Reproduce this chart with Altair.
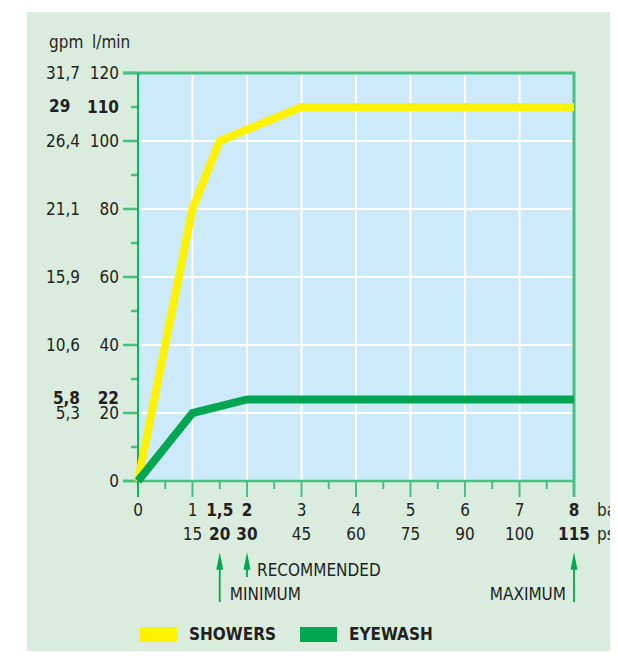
import altair as alt
import pandas as pd

# ---------------- data ----------------
shower_bar = [0, 1, 1.5, 3, 8]
shower_lmin = [0, 80, 100, 110, 110]
eye_bar = [0, 1, 2, 8]
eye_lmin = [0, 20, 24, 24]

bar_ticks = [0, 1, 1.5, 2, 3, 4, 5, 6, 7, 8]
bar_labels = ["0", "1", "1,5", "2", "3", "4", "5", "6", "7", "8"]
bar_bold = [False, False, True, True, False, False, False, False, False, True]

psi_ticks = [1, 1.5, 2, 3, 4, 5, 6, 7, 8]
psi_labels = ["15", "20", "30", "45", "60", "75", "90", "100", "115"]
psi_bold = [False, True, True, False, False, False, False, False, True]

lmin_ticks = [120, 110, 100, 80, 60, 40, 24.5, 20, 0]
lmin_labels = ["120", "110", "100", "80", "60", "40", "22", "20", "0"]
lmin_bold = [False, True, False, False, False, False, True, False, False]

gpm_ticks = [120, 100, 80, 60, 40, 24.5, 20]
gpm_labels = ["31,7", "26,4", "21,1", "15,9", "10,6", "5,8", "5,3"]
gpm_bold = [False, False, False, False, False, True, False]
gpm_top_tick = [110]
gpm_top_label = ["29"]

major_y = [0, 20, 40, 60, 80, 100, 120]
minor_y = [10, 30, 50, 70, 90, 110]
grid_y = [20, 40, 60, 80, 100]
grid_x = [1, 2, 3, 4, 5, 6, 7]
major_x = [0, 1, 2, 3, 4, 5, 6, 7, 8]
minor_x = [0.5, 1.5, 2.5, 3.5, 4.5, 5.5, 6.5, 7.5]

long_arrows = [1.5, 8]
short_arrows = [2]

series_names = ["SHOWERS", "EYEWASH"]

# ---------------- styles ----------------
W, H = 436, 408
FONT = "Liberation Sans Narrow, Arial Narrow, DejaVu Sans Condensed, sans-serif"
TXT = "#231f20"
PANEL = "#d9ecdd"
PLOT_BG = "#cdeafa"
TICK = "#45c184"
AXIS = "#12af5d"
YELLOW = "#fff200"
GREEN = "#00a651"
FS = 17

xs = alt.Scale(domain=[0, 8], nice=False, zero=False)
ys = alt.Scale(domain=[0, 120], nice=False, zero=False)


def df(**cols):
    return pd.DataFrame(cols)


def X(f="v"):
    return alt.X(f"{f}:Q", scale=xs, axis=None)


def Y(f="v"):
    return alt.Y(f"{f}:Q", scale=ys, axis=None)


layers = []

# background panels
layers.append(alt.Chart(df(a=[0])).mark_rect(color=PANEL).encode(
    x=alt.value(-111), x2=alt.value(490), y=alt.value(-61), y2=alt.value(600)))
layers.append(alt.Chart(df(a=[0])).mark_rect(color=PLOT_BG).encode(
    x=alt.value(0), x2=alt.value(W), y=alt.value(0), y2=alt.value(H)))

# grid
layers.append(alt.Chart(df(v=grid_y)).mark_rule(color="white", strokeWidth=2).encode(
    y=Y(), x=alt.value(0), x2=alt.value(W)))
layers.append(alt.Chart(df(v=grid_x)).mark_rule(color="white", strokeWidth=2).encode(
    x=X(), y=alt.value(0), y2=alt.value(H)))

# frame, ticks
layers.append(alt.Chart(df(v=[120])).mark_rule(color=TICK, strokeWidth=3).encode(
    y=Y(), x=alt.value(-15), x2=alt.value(W + 1)))
layers.append(alt.Chart(df(v=[8])).mark_rule(color=TICK, strokeWidth=3).encode(
    x=X(), y=alt.value(-1), y2=alt.value(H + 16)))
layers.append(alt.Chart(df(v=major_y)).mark_rule(color=TICK, strokeWidth=2.5).encode(
    y=Y(), x=alt.value(-15), x2=alt.value(0)))
layers.append(alt.Chart(df(v=minor_y)).mark_rule(color=TICK, strokeWidth=2.5).encode(
    y=Y(), x=alt.value(-7), x2=alt.value(0)))
layers.append(alt.Chart(df(v=major_x)).mark_rule(color=TICK, strokeWidth=2).encode(
    x=X(), y=alt.value(H), y2=alt.value(H + 16)))
layers.append(alt.Chart(df(v=minor_x)).mark_rule(color=TICK, strokeWidth=2).encode(
    x=X(), y=alt.value(H), y2=alt.value(H + 8)))
layers.append(alt.Chart(df(v=[0])).mark_rule(color=TICK, strokeWidth=2.5).encode(
    y=Y(), x=alt.value(-15), x2=alt.value(W + 1)))
layers.append(alt.Chart(df(v=[0])).mark_rule(color=AXIS, strokeWidth=2).encode(
    x=X(), y=alt.value(0), y2=alt.value(H + 16)))

# series
lines = pd.concat([
    df(bar=shower_bar, lmin=shower_lmin, s=series_names[0], o=list(range(len(shower_bar)))),
    df(bar=eye_bar, lmin=eye_lmin, s=series_names[1], o=list(range(len(eye_bar)))),
])
color_scale = alt.Scale(domain=series_names, range=[YELLOW, GREEN])
layers.append(alt.Chart(lines).mark_line(strokeWidth=8, strokeJoin="miter").encode(
    x=X("bar"), y=Y("lmin"), order="o:Q",
    detail="s:N",
    color=alt.Color("s:N", scale=color_scale, legend=None),
))


def labels(values, texts, bold, axis, **kw):
    d = df(v=values, t=texts, b=bold)
    out = []
    for isbold in (False, True):
        sub = d[d["b"] == isbold]
        if len(sub) == 0:
            continue
        m = alt.Chart(sub).mark_text(font=FONT, fontSize=FS, color=TXT,
                                     fontWeight="bold" if isbold else "normal", **kw)
        if axis == "x":
            out.append(m.encode(x=X(), text="t:N"))
        else:
            out.append(m.encode(y=Y(), text="t:N"))
    return out


layers += [l.encode(y=alt.value(H + 30)) for l in labels(bar_ticks, bar_labels, bar_bold, "x", align="center", baseline="middle")]
layers += [l.encode(y=alt.value(H + 54)) for l in labels(psi_ticks, psi_labels, psi_bold, "x", align="center", baseline="middle")]
layers += [l.encode(x=alt.value(-19)) for l in labels(lmin_ticks, lmin_labels, lmin_bold, "y", align="right", baseline="middle", dy=1)]
layers += [l.encode(x=alt.value(-58)) for l in labels(gpm_ticks, gpm_labels, gpm_bold, "y", align="right", baseline="middle", dy=1)]
layers += [l.encode(x=alt.value(-89)) for l in labels(gpm_top_tick, gpm_top_label, [True], "y", align="left", baseline="middle")]

# unit titles
units = df(t=["gpm", "l/min"], px=[-89, -46])
layers.append(alt.Chart(units).mark_text(font=FONT, fontSize=FS, color=TXT, align="left", baseline="middle").encode(
    x=alt.X("px:Q", scale=None), y=alt.value(-30), text="t:N"))
units2 = df(t=["bar", "psi"], py=[H + 30, H + 54])
layers.append(alt.Chart(units2).mark_text(font=FONT, fontSize=FS, color=TXT, align="left", baseline="middle").encode(
    x=alt.value(W + 23), y=alt.Y("py:Q", scale=None), text="t:N"))

# arrows
arrow_path = "M0,-1L0.4,1L-0.4,1Z"
layers.append(alt.Chart(df(v=long_arrows)).mark_rule(color=GREEN, strokeWidth=1.8).encode(
    x=X(), y=alt.value(H + 80), y2=alt.value(H + 121)))
layers.append(alt.Chart(df(v=short_arrows)).mark_rule(color=GREEN, strokeWidth=1.8).encode(
    x=X(), y=alt.value(H + 80), y2=alt.value(H + 96)))
layers.append(alt.Chart(df(v=long_arrows + short_arrows)).mark_point(
    shape=arrow_path, filled=True, size=300, color=GREEN, opacity=1).encode(
    x=X(), y=alt.value(H + 80)))

ann = df(v=[2], t=["RECOMMENDED"])
layers.append(alt.Chart(ann).mark_text(font=FONT, fontSize=FS, color=TXT, align="left", baseline="middle", dx=10).encode(
    x=X(), y=alt.value(H + 90), text="t:N"))
ann2 = df(v=[1.5], t=["MINIMUM"])
layers.append(alt.Chart(ann2).mark_text(font=FONT, fontSize=FS, color=TXT, align="left", baseline="middle", dx=10).encode(
    x=X(), y=alt.value(H + 114), text="t:N"))
ann3 = df(v=[8], t=["MAXIMUM"])
layers.append(alt.Chart(ann3).mark_text(font=FONT, fontSize=FS, color=TXT, align="right", baseline="middle", dx=-8).encode(
    x=X(), y=alt.value(H + 114), text="t:N"))

# legend
leg = df(s=series_names, px=[2, 162])
layers.append(alt.Chart(leg).mark_rect().encode(
    x=alt.X("px:Q", scale=None), x2=alt.X2("px2:Q"), y=alt.value(H + 146), y2=alt.value(H + 161),
    color=alt.Color("s:N", scale=color_scale, legend=None),
).transform_calculate(px2="datum.px + 37"))
layers.append(alt.Chart(leg).mark_text(font=FONT, fontSize=17, fontWeight="bold", color=TXT,
                                      align="left", baseline="middle", dx=49).encode(
    x=alt.X("px:Q", scale=None), y=alt.value(H + 154), text="s:N"))

chart = alt.layer(*layers).properties(
    width=W, height=H,
    autosize=alt.AutoSizeParams(type="none"),
    padding={"left": 130, "top": 65, "right": 36, "bottom": 170},
    background="white",
).configure_view(stroke=None)

chart.save("out.html", embed_options={"renderer": "svg", "actions": False})
